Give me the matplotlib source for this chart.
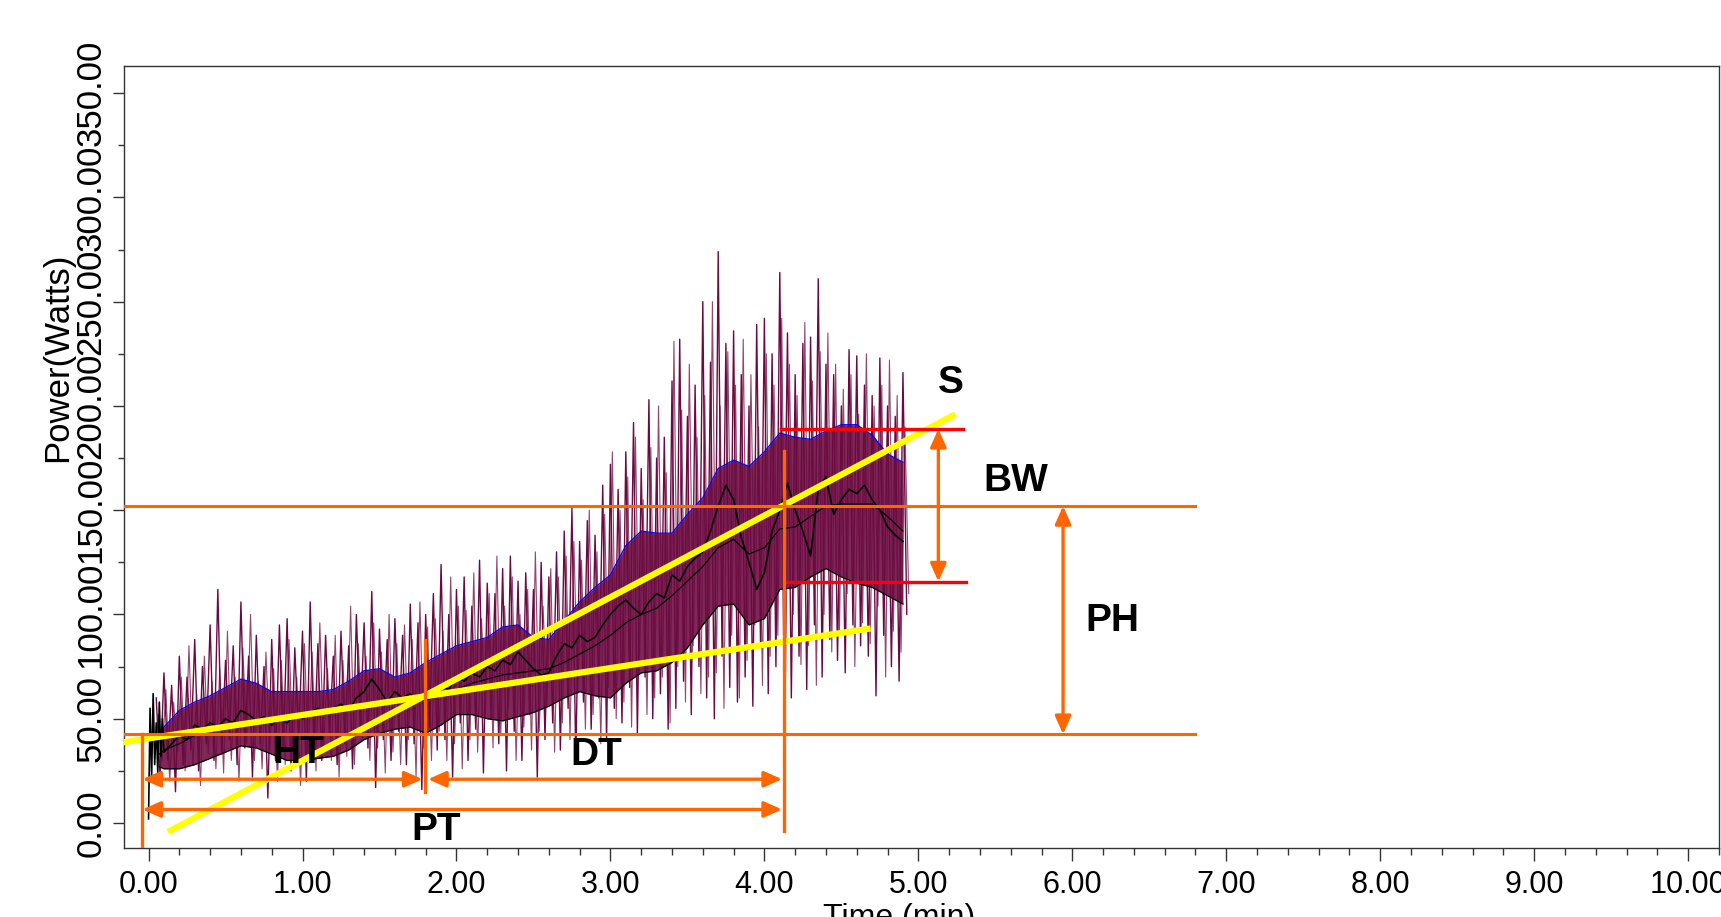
import numpy as np
import matplotlib
matplotlib.use('Agg')
import matplotlib.pyplot as plt
from matplotlib.ticker import MultipleLocator, FormatStrFormatter

# ---------------- data ----------------
# envelope / moving-average curves (time in min, power in W)
env_t = [0.07, 0.1, 0.2, 0.3, 0.4, 0.5, 0.6, 0.7, 0.8, 0.9, 1.0, 1.1, 1.2, 1.3, 1.4,
         1.5, 1.6, 1.7, 1.8, 1.9, 2.0, 2.1, 2.2, 2.3, 2.4, 2.5, 2.6, 2.7, 2.8, 2.9,
         3.0, 3.1, 3.2, 3.3, 3.4, 3.5, 3.6, 3.7, 3.8, 3.9, 4.0, 4.1, 4.2, 4.3, 4.4,
         4.5, 4.6, 4.7, 4.8, 4.9]
upper_env = [43, 46, 54, 58, 61, 65, 69, 67, 63, 63, 63, 63, 64, 68, 73, 74, 70, 72, 77, 81,
             85, 87, 89, 94, 95, 89, 88, 97, 106, 113, 119, 133, 140, 139, 139, 148, 156, 170,
             174, 171, 178, 187, 185, 184, 188, 191, 191, 186, 177, 173]
lower_env = [27, 26, 26, 28, 31, 34, 37, 36, 33, 30, 30, 31, 32, 35, 40, 43, 45, 46, 43, 47,
             52, 52, 50, 49, 51, 53, 56, 60, 63, 61, 60, 67, 72, 73, 77, 84, 95, 104, 105, 95,
             98, 112, 113, 118, 122, 118, 115, 113, 109, 105]
smooth_mean = [33, 35, 38, 42, 45, 47, 48, 49, 50, 50, 51, 52, 53, 55, 57, 58, 58, 59, 59, 61,
               64, 67, 69, 71, 72, 73, 74, 77, 81, 85, 90, 96, 100, 103, 109, 116, 123, 132,
               136, 129, 132, 141, 142, 147, 152, 153, 153, 153, 147, 140]

# running mean (noisy black curve)
mean_t_start = [0.0, 0.01, 0.02, 0.03, 0.04, 0.05, 0.06, 0.07, 0.08, 0.09, 0.10]
mean_v_start = [2, 55, 22, 62, 28, 48, 24, 58, 32, 50, 34]
mean_step = 0.05
mean_v = [38, 42, 40, 47, 45, 48, 46, 50, 48, 54, 52, 49, 51, 47, 50, 48, 52, 50, 53, 55,
          52, 55, 57, 54, 60, 63, 69, 64, 58, 63, 60, 62, 58, 63, 61, 66, 64, 70, 68, 72,
          70, 75, 73, 78, 76, 82, 78, 74, 71, 72, 80, 86, 84, 90, 87, 89, 95, 100, 104, 107,
          103, 100, 106, 110, 108, 119, 116, 123, 127, 130, 140, 152, 162, 155, 137, 125, 112, 120, 140, 150,
          163, 150, 140, 128, 160, 166, 148, 155, 160, 158, 162, 155, 150, 142, 138, 135]

# raw power signal: two interleaved sample trains (every 0.025 min)
sig_t0, sig_dt = 0.05, 0.025
sig_v = [60, 22, 72, 30, 66, 15, 80, 28,
         70, 35, 88, 25, 75, 38, 95, 30,
         112, 33, 78, 40, 85, 28, 106, 36,
         80, 22, 90, 38, 75, 12, 88, 30,
         95, 35, 98, 25, 84, 40, 92, 20,
         106, 34, 86, 30, 90, 42, 80, 28,
         92, 38, 85, 26, 100, 45, 96, 36,
         111, 17, 93, 40, 88, 30, 98, 44,
         90, 28, 105, 38, 96, 16, 100, 46,
         110, 35, 124, 40, 100, 22, 112, 48,
         118, 30, 104, 45, 126, 24, 115, 50,
         110, 38, 122, 25, 128, 44, 116, 30,
         120, 52, 112, 22, 125, 40, 118, 48,
         130, 35, 140, 55, 151, 30, 135, 58,
         145, 45, 138, 60, 162, 40, 172, 55,
         160, 48, 178, 65, 192, 42, 170, 70,
         203, 50, 175, 62, 185, 45, 212, 55,
         232, 68, 195, 52, 210, 75, 250, 60,
         221, 50, 274, 80, 230, 65, 236, 58,
         215, 70, 200, 56, 239, 85, 242, 62,
         225, 75, 264, 90, 235, 60, 215, 80,
         230, 64, 233, 95, 261, 70, 220, 88,
         215, 78, 200, 72, 227, 95, 224, 85,
         210, 80, 205, 61, 223, 90, 200, 75,
         195, 68, 216, 100]
sig2_t0 = 0.0625
sig_v2 = [52, 30, 64, 20, 58, 34, 70, 25,
          85, 28, 62, 18, 80, 33, 68, 26,
          74, 24, 92, 30, 70, 20, 84, 38,
          100, 30, 68, 26, 82, 35, 74, 20,
          78, 28, 88, 34, 70, 18, 86, 32,
          82, 25, 96, 36, 74, 30, 90, 22,
          78, 32, 104, 28, 86, 40, 80, 30,
          96, 36, 82, 24, 100, 34, 86, 28,
          95, 40, 88, 22, 106, 36, 94, 30,
          98, 44, 92, 30, 118, 38, 104, 26,
          102, 40, 120, 34, 98, 52, 110, 36,
          128, 42, 104, 55, 118, 30, 100, 46,
          112, 35, 130, 44, 104, 56, 122, 34,
          118, 48, 128, 40, 135, 62, 126, 45,
          150, 52, 130, 38, 148, 65, 178, 50,
          150, 58, 166, 46, 185, 72, 155, 52,
          180, 60, 200, 70, 168, 48, 231, 75,
          198, 58, 220, 85, 185, 62, 205, 70,
          250, 72, 200, 55, 226, 90, 210, 60,
          232, 78, 215, 95, 190, 66, 225, 80,
          210, 90, 242, 70, 220, 100, 205, 76,
          240, 85, 212, 66, 226, 100, 235, 82,
          220, 92, 208, 110, 215, 75, 196, 96,
          225, 86, 200, 104, 210, 70, 222, 92,
          205, 82, 190, 110]

# fitted lines (yellow): (t, P) end points
steep_line_t = [0.126, 5.24]
steep_line_p = [-4.3, 196.0]
shallow_line_t = [-0.2, 4.69]
shallow_line_p = [38.3, 93.3]

# characteristic levels / times
base_level = 42.6     # lower orange level
peak_level = 152.0    # upper orange level (PH top)
bw_top, bw_bot = 189.0, 115.8
t_start = -0.04
t_ht = 1.795
t_peak = 4.125
level_line_end = 6.8
bw_line_t = [4.11, 5.29]
bw_line_t2 = [4.14, 5.31]
bw_arrow_t = 5.13
ph_arrow_t = 5.94
ht_arrow_p = 21.0
pt_arrow_p = 6.5

labels = {'HT': (0.97, 33.5), 'DT': (2.91, 32.6), 'PT': (1.87, -3.4),
          'S': (5.21, 211), 'BW': (5.63, 164), 'PH': (6.26, 97)}

xticks = [0, 1, 2, 3, 4, 5, 6, 7, 8, 9, 10]
yticks = [0, 50, 100, 150, 200, 250, 300, 350]

# ---------------- figure ----------------
fig = plt.figure(figsize=(17.21, 9.17), dpi=100)
ax = fig.add_axes([0.072, 0.0752, 0.9268, 0.8528])
ax.set_xlim(-0.16, 10.2)
ax.set_ylim(-12, 363)

maroon = '#6b0a40'
orange = '#ff6600'
red = '#ff0000'
yellow = '#ffff00'

sig_t = sig_t0 + sig_dt * np.arange(len(sig_v))
sig_t2 = sig2_t0 + sig_dt * np.arange(len(sig_v2))
mean_t = np.concatenate([mean_t_start, 0.15 + mean_step * np.arange(len(mean_v))])
mean_all = np.concatenate([mean_v_start, mean_v])

ax.fill_between(env_t, lower_env, upper_env, color=maroon, alpha=0.88, lw=0, zorder=1)
ax.plot(sig_t, sig_v, color=maroon, lw=1.0, zorder=2)
ax.plot(sig_t2, sig_v2, color=maroon, lw=0.8, alpha=0.75, zorder=2)
ax.plot(env_t, upper_env, color='#0000ff', lw=0.9, zorder=3)
ax.plot(env_t, lower_env, color='black', lw=0.9, zorder=3)
ax.plot(env_t, smooth_mean, color='black', lw=0.9, zorder=3)
ax.plot(mean_t, mean_all, color='black', lw=1.2, zorder=3)

ax.plot(steep_line_t, steep_line_p, color=yellow, lw=4.5, zorder=4, solid_capstyle='butt')
ax.plot(shallow_line_t, shallow_line_p, color=yellow, lw=4.5, zorder=4, solid_capstyle='butt')

xl = ax.get_xlim()[0]
yl = ax.get_ylim()[0]
ax.plot([xl, level_line_end], [peak_level, peak_level], color=orange, lw=2.2, zorder=5)
ax.plot([xl, level_line_end], [base_level, base_level], color=orange, lw=2.2, zorder=5)
ax.plot(bw_line_t, [bw_top, bw_top], color=red, lw=2.4, zorder=5)
ax.plot(bw_line_t2, [bw_bot, bw_bot], color=red, lw=2.4, zorder=5)

ax.plot([t_start, t_start], [base_level, yl], color=orange, lw=2.4, zorder=5)
ax.plot([t_ht, t_ht], [88, 15], color=orange, lw=2.4, zorder=5)
ax.plot([t_peak, t_peak], [178.5, -3.8], color=orange, lw=2.4, zorder=5)

arrow_kw = dict(arrowstyle='<|-|>,head_length=0.45,head_width=0.2', color=orange, lw=2.4,
                mutation_scale=24, shrinkA=0, shrinkB=0)


def darrow(x0, y0, x1, y1):
    ax.annotate('', xy=(x1, y1), xytext=(x0, y0), arrowprops=arrow_kw, zorder=6)


darrow(t_start, ht_arrow_p, t_ht - 0.015, ht_arrow_p)
darrow(t_ht + 0.02, ht_arrow_p, t_peak - 0.01, ht_arrow_p)
darrow(t_start, pt_arrow_p, t_peak - 0.01, pt_arrow_p)
darrow(bw_arrow_t, bw_top, bw_arrow_t, bw_bot)
darrow(ph_arrow_t, peak_level, ph_arrow_t, base_level)

for txt, (tx, ty) in labels.items():
    ax.text(tx, ty, txt, fontsize=28, fontweight='bold', family='Liberation Sans',
            ha='center', va='center', zorder=7)

# axes styling
for sp in ax.spines.values():
    sp.set_color('#333333')
    sp.set_linewidth(1.0)
ax.set_xticks(xticks)
ax.set_yticks(yticks)
ax.xaxis.set_major_formatter(FormatStrFormatter('%.2f'))
ax.yaxis.set_major_formatter(FormatStrFormatter('%.2f'))
ax.xaxis.set_minor_locator(MultipleLocator(0.2))
ax.yaxis.set_minor_locator(MultipleLocator(25))
ax.tick_params(axis='x', which='major', length=9, width=1, color='#333333', pad=7)
ax.tick_params(axis='x', which='minor', length=5, width=1, color='#333333')
ax.tick_params(axis='y', which='major', length=8, width=1, color='#333333', pad=4)
ax.tick_params(axis='y', which='minor', length=4, width=1, color='#333333')
for lab in ax.get_xticklabels():
    lab.set_family('Liberation Sans')
    lab.set_fontsize(22)
for lab in ax.get_yticklabels():
    lab.set_family('Liberation Sans')
    lab.set_fontsize(25)
    lab.set_rotation(90)
    lab.set_va('center')

ax.set_xlabel('Time (min)', fontsize=23, family='Liberation Sans')
ax.xaxis.set_label_coords(0.486, -0.07)
ax.xaxis.label.set_va('top')
ax.set_ylabel('Power(Watts)', fontsize=25, family='Liberation Sans')
ax.yaxis.set_label_coords(-0.031, 0.627)

fig.savefig('out.png', dpi=100, facecolor='white')
